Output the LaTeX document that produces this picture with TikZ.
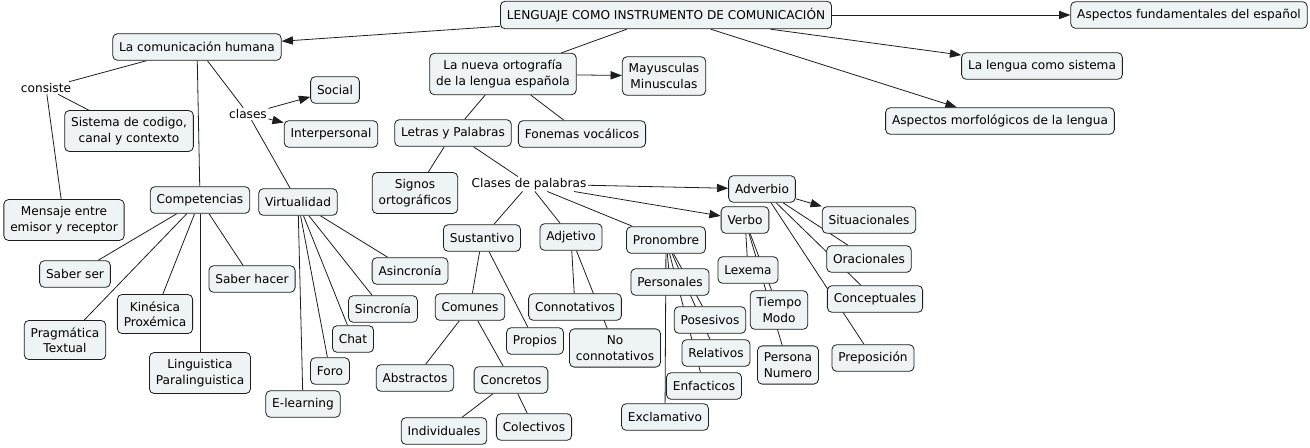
\documentclass[tikz,border=0pt]{standalone}
\usepackage{fontspec}
\setmainfont{DejaVu Sans}
\usetikzlibrary{arrows.meta,backgrounds}
\definecolor{cfill}{RGB}{238,243,245}
\definecolor{cline}{RGB}{30,30,30}

\begin{document}
\begin{tikzpicture}[x=0.75pt,y=-0.75pt,font=\fontsize{9.1}{11.5}\selectfont,
	concept/.style={draw=cline,fill=cfill,rounded corners=3.5pt,line width=0.6pt,inner xsep=4.8pt,inner ysep=5.2pt,minimum height=20pt,align=center},
	phrase/.style={inner sep=1pt},
	link/.style={draw=cline,line width=0.6pt},
	tip/.style={link,-{Triangle[length=8.5pt,width=6.2pt]}}]
	\useasboundingbox (0,0) rectangle (1310,447);
	% main concepts
	\node[concept] (leng) at (666,15) {LENGUAJE COMO INSTRUMENTO DE COMUNICACIÓN};
	\node[concept] (fund) at (1189,15) {Aspectos fundamentales del español};
	\node[concept] (comhum) at (197,47) {La comunicación humana};
	\node[concept] (nueva) at (503,74) {La nueva ortografía\\de la lengua española};
	\node[concept] (mayus) at (664,76) {Mayusculas\\Minusculas};
	\node[concept] (sist) at (1042,66) {La lengua como sistema};
	\node[concept] (morf) at (1000,121) {Aspectos morfológicos de la lengua};
	% comunicacion humana
	\node[phrase] (consiste) at (46,88) {consiste};
	\node[phrase] (clases) at (248,114) {clases};
	\node[concept] (social) at (335,90) {Social};
	\node[concept] (interp) at (331,134) {Interpersonal};
	\node[concept] (sistcod) at (129,131) {Sistema de codigo,\\canal y contexto};
	\node[concept] (mensaje) at (64,220) {Mensaje entre\\emisor y receptor};
	\node[concept] (compet) at (200,200) {Competencias};
	\node[concept] (virtual) at (298,202) {Virtualidad};
	\node[concept] (saberser) at (75,274) {Saber ser};
	\node[concept] (saberh) at (252,279) {Saber hacer};
	\node[concept] (kines) at (155,314) {Kinésica\\Proxémica};
	\node[concept] (pragm) at (65,340) {Pragmática\\Textual};
	\node[concept] (lingu) at (200,373) {Linguistica\\Paralinguistica};
	\node[concept] (asinc) at (410,271) {Asincronía};
	\node[concept] (sinc) at (383,309) {Sincronía};
	\node[concept] (chat) at (353,339) {Chat};
	\node[concept] (foro) at (330,371) {Foro};
	\node[concept] (elearn) at (303,404) {E-learning};
	% ortografia
	\node[concept] (letras) at (453,133) {Letras y Palabras};
	\node[concept] (fonemas) at (582,134) {Fonemas vocálicos};
	\node[concept] (signos) at (415,193) {Signos\\ortográficos};
	\node[phrase] (clasespal) at (529,184) {Clases de palabras};
	\node[concept] (sust) at (482,238) {Sustantivo};
	\node[concept] (adj) at (571,237) {Adjetivo};
	\node[concept] (pron) at (666,240) {Pronombre};
	\node[concept] (verbo) at (745,220) {Verbo};
	\node[concept] (adverb) at (762,189) {Adverbio};
	\node[concept] (comunes) at (470,307) {Comunes};
	\node[concept] (propios) at (535,341) {Propios};
	\node[concept] (abstr) at (415,378) {Abstractos};
	\node[concept] (concr) at (511,380) {Concretos};
	\node[concept] (indiv) at (444,431) {Individuales};
	\node[concept] (colect) at (534,427) {Colectivos};
	\node[concept] (connot) at (575,307) {Connotativos};
	\node[concept] (noconnot) at (615,348) {No\\connotativos};
	\node[concept] (person) at (670,282) {Personales};
	\node[concept] (poses) at (710,320) {Posesivos};
	\node[concept] (relat) at (716,353) {Relativos};
	\node[concept] (enfat) at (704,386) {Enfacticos};
	\node[concept] (exclam) at (665,417) {Exclamativo};
	\node[concept] (lexema) at (748,270) {Lexema};
	\node[concept] (tiempo) at (779,310) {Tiempo\\Modo};
	\node[concept] (persnum) at (788,365) {Persona\\Numero};
	\node[concept] (situac) at (869,220) {Situacionales};
	\node[concept] (oracion) at (869,259) {Oracionales};
	\node[concept] (concept) at (875,299) {Conceptuales};
	\node[concept] (prepos) at (873,358) {Preposición};
	% connectors behind the boxes
	\begin{scope}[on background layer]
		\foreach \a/\b in {leng/comhum,leng/fund,leng/sist,leng/morf,clases/social,clases/interp,
			nueva/mayus,clasespal/verbo,clasespal/adverb,adverb/situac}
			\draw[tip] (\a)--(\b);
		\foreach \a/\b in {leng/nueva,comhum/consiste,consiste/sistcod,consiste/mensaje,comhum/compet,
			comhum/clases,clases/virtual,nueva/letras,nueva/fonemas,letras/signos,letras/clasespal,
			clasespal/sust,clasespal/adj,clasespal/pron,sust/comunes,sust/propios,comunes/abstr,
			comunes/concr,concr/indiv,concr/colect,adj/connot,adj/noconnot,pron/person,pron/poses,
			pron/relat,pron/enfat,pron/exclam,verbo/lexema,verbo/tiempo,verbo/persnum,adverb/oracion,
			adverb/concept,adverb/prepos,compet/saberser,compet/pragm,compet/kines,compet/lingu,
			compet/saberh,virtual/asinc,virtual/sinc,virtual/chat,virtual/foro,virtual/elearn}
			\draw[link] (\a)--(\b);
	\end{scope}
\end{tikzpicture}
\end{document}
